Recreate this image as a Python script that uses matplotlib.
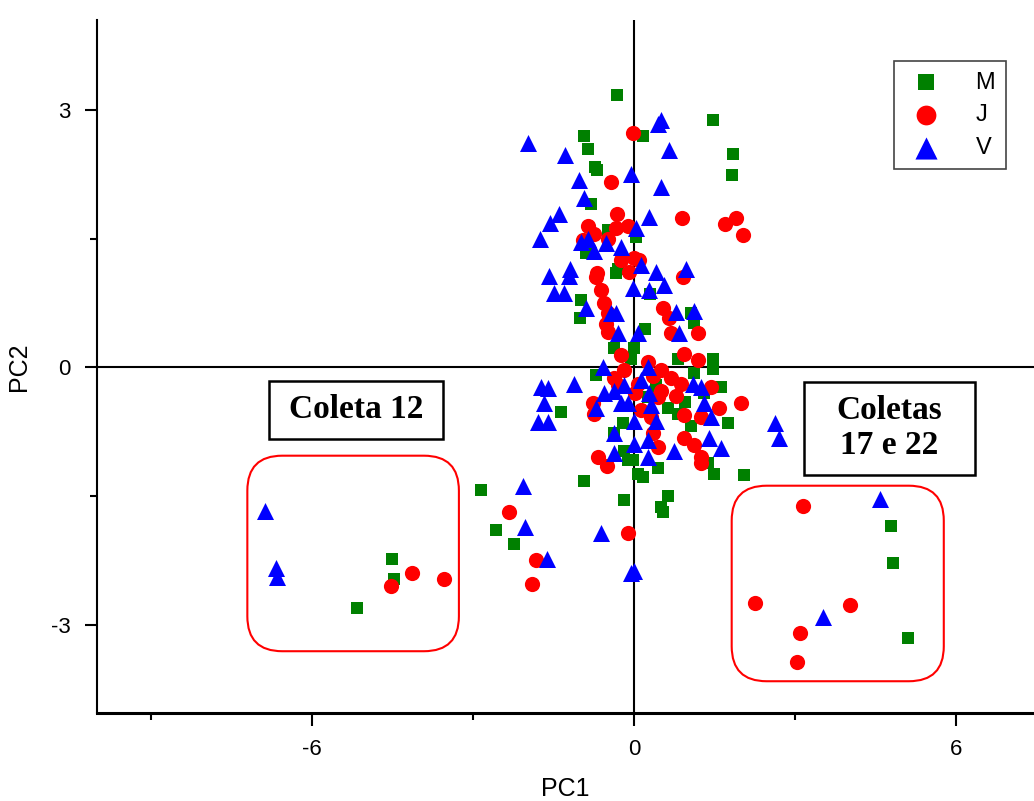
import matplotlib
matplotlib.use("Agg")
import matplotlib.pyplot as plt
import matplotlib.patches as mpatches
from matplotlib.ticker import MultipleLocator

plt.rcParams["font.family"] = ["Liberation Sans", "DejaVu Sans"]
plt.rcParams["axes.unicode_minus"] = False

# PCA scores (PC1, PC2)
m_pc1 = [-0.32, 1.47, -0.93, -0.86, 0.17, 1.84, 1.82, -0.73, -0.69, -0.80, 0.04, -0.48,
         -0.89, -0.30, -0.33, -0.99, -1.00, 0.20, 0.00, -0.37, 0.82, 1.47, -0.71, 1.12,
         1.62, 0.63, 0.82, 1.06, 1.75, -0.20, 0.26, -1.36, 1.06, 1.12, -0.02, -0.19,
         -0.37, 1.38, 0.45, -0.93, -0.19, 0.63, 2.05, 1.49, 0.07, 0.50, 0.54, -2.85,
         -2.57, -2.23, -0.11, 0.17, -4.50, -4.47, -5.15, 4.78, 4.82, 5.10, -0.28, 0.41,
         1.47, 0.30, -0.05, 1.30, 0.95]
m_pc2 = [3.18, 2.88, 2.70, 2.55, 2.70, 2.49, 2.24, 2.34, 2.30, 1.90, 1.52, 1.60,
         1.33, 1.15, 1.10, 0.78, 0.58, 0.45, 0.23, 0.22, 0.10, 0.10, -0.09, -0.07,
         -0.23, -0.47, -0.54, -0.68, -0.65, -0.65, -0.35, -0.52, 0.63, 0.52, -1.08, -0.97,
         -0.77, -1.12, -1.17, -1.32, -1.55, -1.50, -1.26, -1.24, -1.24, -1.63, -1.69, -1.43,
         -1.90, -2.06, -1.08, -1.28, -2.24, -2.47, -2.81, -1.85, -2.28, -3.16, -0.23, -0.21,
         -0.02, 0.85, 0.10, -0.30, -0.40]

j_pc1 = [-0.02, -0.43, -0.32, -0.86, 0.89, 1.69, 1.90, 2.03, -0.33, -0.11, -0.74, -0.95,
         -0.48, -0.24, 0.00, 0.09, -0.09, -0.69, 0.91, -0.71, -0.61, -0.56, -0.48, -0.52,
         -0.48, 0.54, 0.65, 0.69, 1.19, 0.93, 1.19, 0.26, 0.50, 0.69, 0.87, 0.78,
         0.50, 0.45, -0.19, -0.37, -0.30, -0.76, -0.74, 0.07, 0.13, 0.32, 0.35, 0.93,
         1.25, 1.43, 1.58, 1.99, 0.93, 1.12, 1.25, 0.45, -0.67, 1.25, -0.50, -2.33,
         -1.82, -1.90, -0.11, -4.13, -3.53, -4.52, 3.14, 2.25, 4.02, 3.09, 3.03, -0.24,
         0.02, 0.35]
j_pc2 = [2.73, 2.16, 1.79, 1.65, 1.74, 1.67, 1.74, 1.54, 1.62, 1.65, 1.56, 1.48,
         1.50, 1.25, 1.28, 1.25, 1.11, 1.10, 1.05, 1.05, 0.90, 0.75, 0.63, 0.51,
         0.41, 0.69, 0.57, 0.40, 0.40, 0.16, 0.08, 0.06, -0.03, -0.12, -0.19, -0.33,
         -0.27, -0.35, -0.03, -0.12, -0.21, -0.41, -0.54, -0.19, -0.50, -0.58, -0.77, -0.56,
         -0.58, -0.23, -0.47, -0.41, -0.82, -0.91, -1.05, -0.93, -1.05, -1.12, -1.15, -1.69,
         -2.25, -2.53, -1.93, -2.40, -2.47, -2.55, -1.62, -2.75, -2.77, -3.10, -3.43, 0.14,
         -0.30, -0.10]

v_pc1 = [-1.97, -1.28, 0.45, 0.50, 0.65, -0.06, -1.02, 0.50, -0.93, -1.40, -1.56, -1.75,
         0.28, 0.04, -0.99, -0.86, -0.74, -0.52, -0.24, 0.13, 0.41, 0.97, -1.58, -1.19,
         -1.21, -1.49, -1.30, -0.89, -0.43, -0.33, -0.30, 0.07, -0.02, 0.28, 0.56, 0.78,
         1.12, 0.84, -0.58, -0.19, -0.37, -0.56, -0.71, -0.24, -0.11, 0.26, 0.13, 0.28,
         0.32, 0.00, 0.41, 1.10, 1.25, 1.30, 1.43, -0.37, -0.37, 0.00, 0.26, 0.26,
         0.74, 1.40, 1.62, -1.73, -1.60, -1.12, -1.67, -1.79, -1.60, 2.62, 2.70, -2.07,
         -2.03, -1.62, -0.61, -0.06, 0.00, -6.87, -6.66, -6.64, 4.58, 3.52]
v_pc2 = [2.62, 2.48, 2.84, 2.88, 2.54, 2.26, 2.19, 2.10, 1.98, 1.79, 1.68, 1.50,
         1.75, 1.63, 1.46, 1.50, 1.36, 1.45, 1.40, 1.19, 1.11, 1.15, 1.07, 1.15,
         1.07, 0.87, 0.87, 0.69, 0.63, 0.63, 0.40, 0.40, 0.93, 0.90, 0.96, 0.64,
         0.66, 0.40, 0.00, -0.21, -0.27, -0.30, -0.47, -0.41, -0.42, 0.00, -0.15, -0.30,
         -0.44, -0.62, -0.62, -0.19, -0.23, -0.42, -0.58, -0.77, -1.00, -0.89, -0.85, -1.05,
         -0.97, -0.82, -0.94, -0.23, -0.24, -0.19, -0.42, -0.64, -0.64, -0.65, -0.82, -1.38,
         -1.86, -2.23, -1.93, -2.40, -2.37, -1.67, -2.34, -2.45, -1.54, -2.91]

fig = plt.figure(figsize=(10.34, 8.01), dpi=100)
ax = fig.add_axes([0.0938, 0.1099, 0.9062, 0.8651])

ax.axhline(0, color="black", lw=1.5, zorder=1)
ax.axvline(0, color="black", lw=1.5, zorder=1)

ax.scatter(m_pc1, m_pc2, marker="s", s=85, color="#008000", linewidths=0, label="M", zorder=3)
ax.scatter(j_pc1, j_pc2, marker="o", s=120, color="#ff0000", linewidths=0, label="J", zorder=3)
ax.scatter(v_pc1, v_pc2, marker="^", s=150, color="#0000ff", linewidths=0, label="V", zorder=3)

ax.set_xlim(-10, 7.45)
ax.set_ylim(-4.03, 4.05)
ax.xaxis.set_major_locator(MultipleLocator(6))
ax.xaxis.set_minor_locator(MultipleLocator(3))
ax.yaxis.set_major_locator(MultipleLocator(3))
ax.yaxis.set_minor_locator(MultipleLocator(1.5))
ax.tick_params(which="major", direction="out", length=9, width=1.5, labelsize=16, pad=10)
ax.tick_params(which="minor", direction="out", length=5, width=1.5)

ax.spines["top"].set_visible(False)
ax.spines["right"].set_visible(False)
ax.spines["left"].set_linewidth(1.5)
ax.spines["bottom"].set_linewidth(2.2)

ax.set_xlabel("PC1", fontsize=18, labelpad=12)
ax.set_ylabel("PC2", fontsize=18, labelpad=14)

# rounded highlight boxes
aspect = 53.75 / 85.8
for x0, y0, w, h in [(-7.20, -3.31, 3.94, 2.28), (1.82, -3.66, 3.95, 2.28)]:
    box = mpatches.FancyBboxPatch((x0, y0), w, h,
                                  boxstyle="round,pad=0,rounding_size=0.65",
                                  mutation_aspect=aspect, fill=False,
                                  edgecolor="red", lw=1.5, zorder=2)
    ax.add_patch(box)

# annotation frames
for x0, y0, w, h in [(-6.79, -0.83, 3.24, 0.67), (3.16, -1.25, 3.20, 1.08)]:
    ax.add_patch(mpatches.Rectangle((x0, y0), w, h, facecolor="white",
                                    edgecolor="black", lw=1.8, zorder=4))
ax.text(-5.17, -0.49, "Coleta 12", ha="center", va="center", fontsize=24,
        fontweight="bold", family="Liberation Serif", zorder=5)
ax.text(4.76, -0.71, "Coletas\n17 e 22", ha="center", va="center", fontsize=24,
        fontweight="bold", family="Liberation Serif", linespacing=1.15, zorder=5)

leg = ax.legend(loc="upper right", bbox_to_anchor=(0.970, 0.941), fontsize=17,
                fancybox=False, edgecolor="#444444", framealpha=1, markerfirst=True,
                handletextpad=1.2, borderpad=0.45, labelspacing=0.45, borderaxespad=0,
                handlelength=1.8, markerscale=1.3)
leg.get_frame().set_linewidth(1.2)

fig.savefig("out.png", dpi=100)
